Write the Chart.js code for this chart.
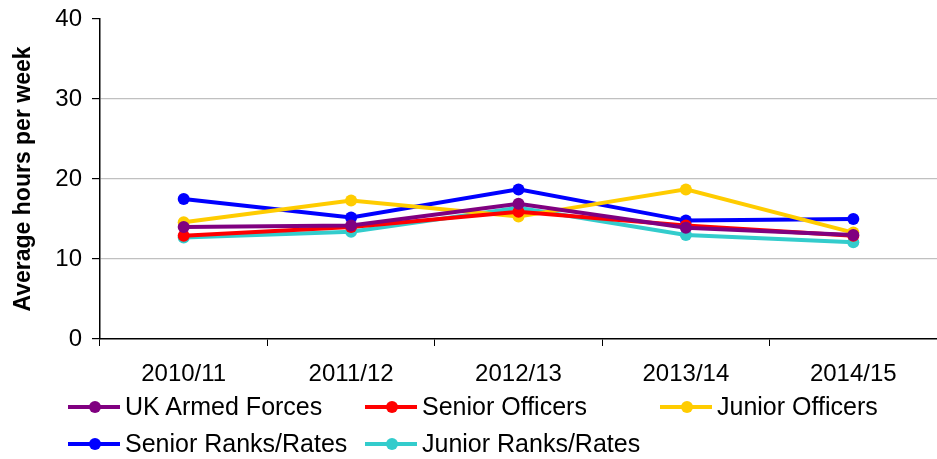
<!DOCTYPE html>
<html>
<head>
<meta charset="utf-8">
<script src="https://cdn.jsdelivr.net/npm/chart.js@4"></script>
<style>
  body { margin: 0; background: #fff; }
  #wrap { position: relative; width: 937px; height: 459px; }
  #legend { position: absolute; left: 68px; top: 392px; display: grid;
    grid-template-columns: 297px 295px 280px; row-gap: 8px;
    font-family: "Liberation Sans", Arial, sans-serif; font-size: 25px; color: #000; }
  .item { display: flex; align-items: center; height: 29px; white-space: nowrap; }
  .mark { position: relative; width: 52px; height: 4px; margin-right: 5px; }
  .mark i { position: absolute; left: 21px; top: -4px; width: 12px; height: 12px; border-radius: 50%; }
</style>
</head>
<body>
<div id="wrap">
  <canvas id="chart" width="937" height="459"></canvas>
  <div id="legend"></div>
</div>
<script>
const years = ["2010/11", "2011/12", "2012/13", "2013/14", "2014/15"];
const ukArmedForces = [14.0, 14.2, 16.9, 13.9, 13.0];
const seniorOfficers = [12.9, 14.0, 15.9, 14.2, 12.9];
const juniorOfficers = [14.6, 17.3, 15.3, 18.7, 13.3];
const seniorRanks = [17.5, 15.2, 18.7, 14.8, 15.0];
const juniorRanks = [12.7, 13.4, 16.4, 13.0, 12.1];
const yTicks = [0, 10, 20, 30, 40];

const series = [
    { label: "UK Armed Forces", data: ukArmedForces, color: "#800080" },
    { label: "Senior Officers", data: seniorOfficers, color: "#FF0000" },
    { label: "Junior Officers", data: juniorOfficers, color: "#FFCC00" },
    { label: "Senior Ranks/Rates", data: seniorRanks, color: "#0000FF" },
    { label: "Junior Ranks/Rates", data: juniorRanks, color: "#33CCCC" }
];

const font = "'Liberation Sans', Arial, sans-serif";

new Chart(document.getElementById("chart"), {
    type: "line",
    data: {
        labels: years,
        datasets: series.map(s => ({
            label: s.label,
            data: s.data,
            borderColor: s.color,
            backgroundColor: s.color,
            borderWidth: 4,
            pointRadius: 6,
            pointBorderWidth: 0,
            tension: 0,
            fill: false
        }))
    },
    options: {
        responsive: false,
        animation: false,
        layout: { autoPadding: false, padding: { top: 19, right: 0, bottom: 70, left: 0 } },
        plugins: { legend: { display: false }, tooltip: { enabled: false } },
        scales: {
            x: {
                offset: true,
                grid: { offset: true, drawOnChartArea: false, tickLength: 7, color: "#000", lineWidth: 1 },
                border: { display: true, color: "#000", width: 1.5 },
                ticks: { color: "#000", font: { family: font, size: 24 }, padding: 14, maxRotation: 0 },
                afterFit: s => { s.height = 50; s.paddingLeft = 0; s.paddingRight = 0; }
            },
            y: {
                min: 0, max: 40,
                afterBuildTicks: s => { s.ticks = yTicks.map(v => ({ value: v })); },
                grid: {
                    color: c => (c.tick.value === 0 || c.tick.value === 40) ? "rgba(0,0,0,0)" : "#c0c0c0",
                    tickColor: "#000",
                    tickLength: 8,
                    lineWidth: 1.2
                },
                border: { display: true, color: "#000", width: 1.5 },
                ticks: { color: "#000", font: { family: font, size: 24 }, padding: 10 },
                title: {
                    display: true,
                    text: "Average hours per week",
                    color: "#000",
                    font: { family: font, size: 23, weight: "bold" },
                    padding: { top: 10, bottom: 0 }
                },
                afterFit: s => { s.width = 100; s.paddingTop = 0; s.paddingBottom = 0; }
            }
        }
    }
});

const legend = document.getElementById("legend");
series.forEach(s => {
    const item = document.createElement("div");
    item.className = "item";
    item.innerHTML = '<span class="mark" style="background:' + s.color + '"><i style="background:' + s.color + '"></i></span>' + s.label;
    legend.appendChild(item);
});
</script>
</body>
</html>
